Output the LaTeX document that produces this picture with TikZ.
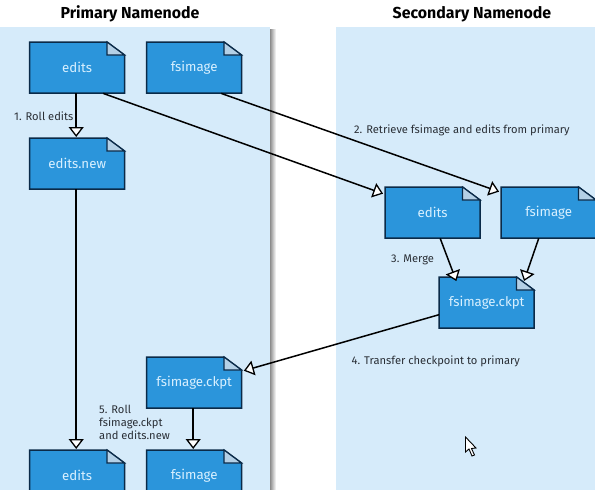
\documentclass[tikz,border=0pt]{standalone}
\usepackage{fontspec}
\setmainfont{Fira Sans}
\usetikzlibrary{arrows.meta}
\definecolor{panelc}{HTML}{D6EBFA}
\definecolor{docc}{HTML}{2B95DB}
\definecolor{edgec}{HTML}{0A2A48}
\definecolor{foldc}{HTML}{B4D0E6}
\definecolor{doctxt}{HTML}{D8F0FF}
\definecolor{labc}{HTML}{2A2F36}
\tikzset{
  panel/.style={fill=panelc,draw=none},
  heading/.style={font=\bfseries\fontsize{15.9}{18}\selectfont,text=black,anchor=center,inner sep=0pt},
  docbox/.style={minimum width=95pt,minimum height=51pt,inner sep=0pt,anchor=north west,text=doctxt,font=\fontsize{13.3}{15}\selectfont},
  docshape/.style={fill=docc,draw=edgec,line width=1.5pt,line join=miter},
  foldshape/.style={fill=foldc,draw=edgec,line width=1.2pt,line join=miter},
  lab/.style={font=\fontsize{11.15}{13.2}\selectfont,text=labc,inner sep=0pt,align=left,anchor=west},
  conn/.style={draw=black,line width=1.5pt,-{Triangle[open,fill=white,length=10pt,width=15pt,line width=1.3pt]},shorten >=1pt}
}
% #1 name, #2 x, #3 y, #4 text
\newcommand{\docnode}[4]{%
  \draw[docshape] (#2,#3) -- ++(77.5,0) -- ++(17.5,13) -- ++(0,38) -- ++(-95,0) -- cycle;
  \draw[foldshape] (#2+77.5,#3) -- ++(0,13) -- ++(17.5,0) -- cycle;
  \node[docbox] (#1) at (#2,#3) {#4};
}
\begin{document}
\begin{tikzpicture}[x=1pt,y=-1pt]
\useasboundingbox (0,0) rectangle (595,490);
\clip (0,0) rectangle (595,490);
\fill[white] (0,0) rectangle (595,490);
\shade[left color=black!45,right color=white] (270,29) rectangle (276,490);
\fill[panel] (0,27) rectangle (270,490);
\fill[panel] (336,27) rectangle (595,490);
\node[heading] (h1) at (130,14) {Primary Namenode};
\node[heading] (h2) at (472,14) {Secondary Namenode};

\docnode{pe}{29.5}{42}{edits}
\docnode{pf}{146.5}{42}{fsimage}
\docnode{pn}{29.5}{138}{edits.new}
\docnode{pc}{146.5}{357}{fsimage.ckpt}
\docnode{pe2}{29.5}{450}{edits}
\docnode{pf2}{146.5}{450}{fsimage}
\docnode{se}{385}{187}{edits}
\docnode{sf}{501}{187}{fsimage}
\docnode{sc}{439}{277}{fsimage.ckpt}

\draw[conn] ([xshift=-1pt]pe.south) -- ([xshift=-1pt]pn.north);
\draw[conn] ([xshift=-1pt]pn.south) -- ([xshift=-1pt]pe2.north);
\draw[conn] ([xshift=-1pt]pc.south) -- ([xshift=-1pt]pf2.north);
\draw[conn] ([xshift=26pt]pe.south) -- ([xshift=-1pt,yshift=-7pt]se.north west);
\draw[conn] ([xshift=27pt]pf.south) -- ([xshift=-1pt,yshift=-5pt]sf.north west);
\draw[conn] ([xshift=7.5pt]se.south) -- ([xshift=-30pt,yshift=-5pt]sc.north);
\draw[conn] ([xshift=-10pt]sf.south) -- ([xshift=37pt,yshift=-5pt]sc.north);
\draw[conn] ([yshift=-12pt]sc.west) -- ([xshift=1pt,yshift=-14pt]pc.north east);

\node[lab] (l1) at (14,116.5) {1. Roll edits};
\node[lab] (l2) at (354,130.5) {2. Retrieve fsimage and edits from primary};
\node[lab] (l3) at (391,259.5) {3. Merge};
\node[lab] (l4) at (351.5,361) {4. Transfer checkpoint to primary};
\node[lab,anchor=north west] (l5) at (99,404.5) {5. Roll\\fsimage.ckpt\\and edits.new};

% mouse pointer
\draw[fill=white,draw=black,line width=0.9pt,line join=miter]
  (465.5,437) -- (465.5,452) -- (469,449) -- (472,456) -- (474.5,455) -- (471.5,448.5) -- (476,448) -- cycle;
\end{tikzpicture}
\end{document}
